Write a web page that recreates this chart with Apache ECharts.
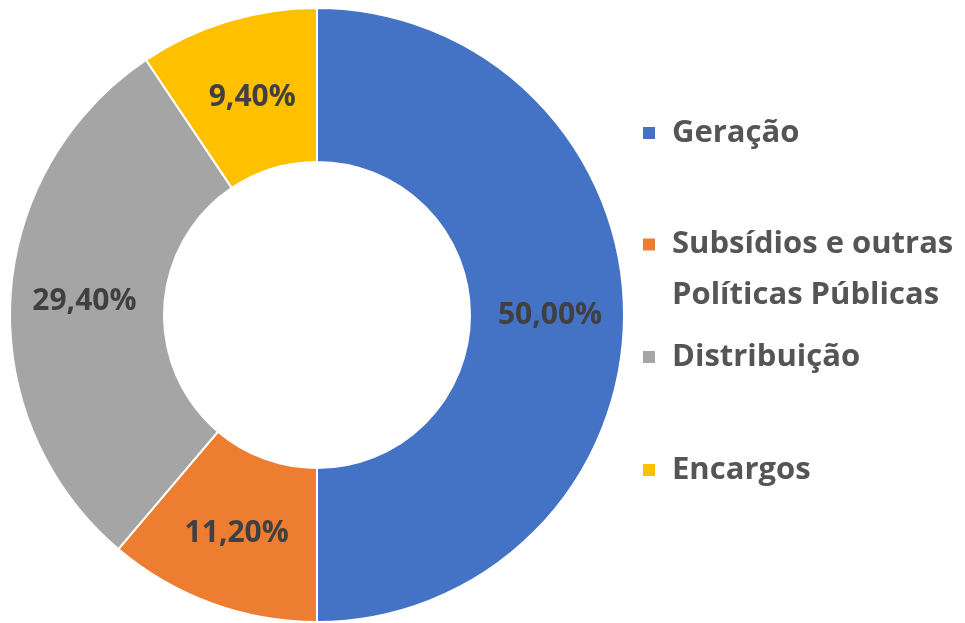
<!DOCTYPE html>
<html>
<head>
<meta charset="utf-8">
<script src="https://cdn.jsdelivr.net/npm/echarts@6/dist/echarts.min.js"></script>
<style>
html,body{margin:0;padding:0;background:#fff;}
#chartmain{width:965px;height:623px;}
</style>
</head>
<body>
<div id="chartmain"></div>
<script>
var categories=['Geração','Subsídios e outras\nPolíticas Públicas','Distribuição','Encargos'];
var values=[50.0,11.2,29.4,9.4];
var colors=['#4472C4','#ED7D31','#A5A5A5','#FFC000'];
var legendTops=[114,219,338,451];

function fmtPct(v){
	return v.toFixed(2).replace('.',',')+'%';
}
var data=[];
for(var i=0;i<categories.length;i++){
	data.push({value:values[i],name:categories[i],itemStyle:{color:colors[i]}});
}
// small nudge, excel puts this label a bit lower
data[3].label={offset:[3,5]};

// one legend per item so the spacing can follow the original
var legends=[];
for(var j=0;j<categories.length;j++){
	var twoLine=categories[j].indexOf('\n')>=0;
	legends.push({
		orient:'vertical',
		left:643,
		top:legendTops[j],
		padding:0,
		data:[categories[j]],
		itemWidth:24,
		itemHeight:twoLine?63:12,
		icon:twoLine?'path://M0,0L12,0L12,12L0,12Z M24,63L24,63':'path://M0,0L12,0L12,12L0,12Z M24,12L24,12',
		itemStyle:{borderWidth:0},
		selectedMode:false,
		textStyle:{
			fontFamily:'Open Sans',
			fontWeight:'bold',
			fontSize:31,
			color:'#555555',
			lineHeight:twoLine?51:38
		}
	});
}
var option={
	backgroundColor:'#fff',
	animation:false,
	legend:legends,
	series:[{
		name:'Tarifa',
		type:'pie',
		center:[317,315],
		radius:[153,307],
		startAngle:90,
		clockwise:true,
		avoidLabelOverlap:false,
		itemStyle:{borderColor:'#fff',borderWidth:2},
		label:{
			show:true,
			position:'inside',
			formatter:function(p){return fmtPct(p.value);},
			fontFamily:'Open Sans',
			fontWeight:'bold',
			fontSize:30,
			color:'#404040'
		},
		labelLine:{show:false},
		data:data
	}]
};
var myChart=echarts.init(document.getElementById('chartmain'));
myChart.setOption(option);
</script>
</body>
</html>
